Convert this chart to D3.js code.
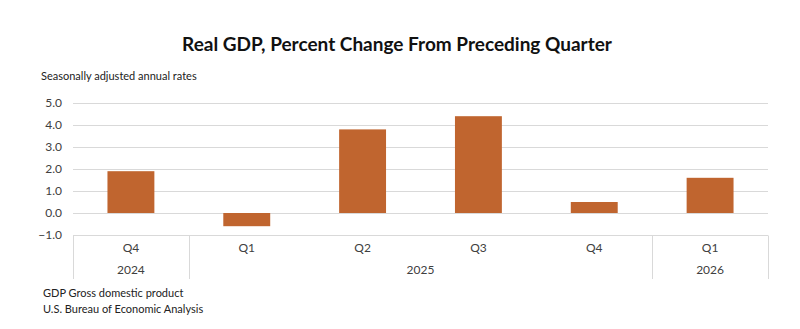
<!DOCTYPE html>
<html>
<head>
<meta charset="utf-8">
<style>
  body { margin: 0; background: #fff; }
  svg { display: block; font-family: Lato, "Open Sans", sans-serif; }
  .grid line { stroke: #d9d9d9; }
  .tick-label { font-size: 12px; fill: #404040; }
</style>
</head>
<body>
<svg width="800" height="329"></svg>
<script src="https://d3js.org/d3.v7.min.js"></script>
<script>

// quarters, the year each one belongs to, and the growth rate
var quarters = ["Q4", "Q1", "Q2", "Q3", "Q4", "Q1"];
var years = ["2024", "2025", "2025", "2025", "2025", "2026"];
var gdp = [1.9, -0.6, 3.8, 4.4, 0.5, 1.6];
var yTicks = [-1, 0, 1, 2, 3, 4, 5];

var svg = d3.select("svg");

var margin = {left: 73, right: 32, top: 103, bottom: 94};
var width = 800 - margin.left - margin.right,
    plotBottom = 329 - margin.bottom;

var ids = d3.range(gdp.length);

var x = d3.scaleBand()
    .domain(ids)
    .range([margin.left, margin.left + width])
    .paddingInner(0.595)
    .paddingOuter(0.2975);

var xOuter = d3.scaleBand()
    .domain(ids)
    .range([margin.left, margin.left + width]);

var y = d3.scaleLinear()
    .domain([-1, 5])
    .range([plotBottom, margin.top]);

// title and notes
svg.append("text")
    .attr("x", 397)
    .attr("y", 51)
    .attr("text-anchor", "middle")
    .style("font-size", "19px")
    .style("font-weight", "bold")
    .style("fill", "#111")
    .text("Real GDP, Percent Change From Preceding Quarter");

svg.append("text")
    .attr("x", 41)
    .attr("y", 80)
    .style("font-size", "11px")
    .style("fill", "#222")
    .text("Seasonally adjusted annual rates");

svg.append("text")
    .attr("x", 43)
    .attr("y", 297)
    .style("font-size", "11px")
    .style("fill", "#222")
    .text("GDP Gross domestic product");

svg.append("text")
    .attr("x", 43)
    .attr("y", 313)
    .style("font-size", "11px")
    .style("fill", "#222")
    .text("U.S. Bureau of Economic Analysis");

// gridlines
svg.append("g")
    .attr("class", "grid")
    .selectAll("line")
    .data(yTicks)
    .enter().append("line")
      .attr("x1", margin.left)
      .attr("x2", margin.left + width)
      .attr("y1", function(d) { return Math.round(y(d)) + 0.5; })
      .attr("y2", function(d) { return Math.round(y(d)) + 0.5; });

// y axis labels
svg.append("g")
    .selectAll("text")
    .data(yTicks)
    .enter().append("text")
      .attr("class", "tick-label")
      .attr("x", 62)
      .attr("y", function(d) { return y(d) + 4; })
      .attr("text-anchor", "end")
      .text(function(d) { return (d < 0 ? "\u22121.0" : d3.format(".1f")(d)); });

// bars
svg.append("g")
    .selectAll("rect")
    .data(ids)
    .enter().append("rect")
      .attr("x", function(i) { return x(i); })
      .attr("width", x.bandwidth())
      .attr("y", function(i) { return y(Math.max(0, gdp[i])); })
      .attr("height", function(i) { return Math.abs(y(gdp[i]) - y(0)); })
      .attr("fill", "#c0652f");

// category axis: quarter row, year row, and separators between years
var axisTop = Math.round(y(-1)) + 0.5,
    axisBottom = 279;

svg.append("g")
    .selectAll("text")
    .data(ids)
    .enter().append("text")
      .attr("class", "tick-label")
      .attr("x", function(i) { return xOuter(i) + xOuter.bandwidth() / 2; })
      .attr("y", 252)
      .attr("text-anchor", "middle")
      .text(function(i) { return quarters[i]; });

var groups = d3.groups(ids, function(i) { return years[i]; });

svg.append("g")
    .selectAll("text")
    .data(groups)
    .enter().append("text")
      .attr("class", "tick-label")
      .attr("x", function(g) {
        var a = xOuter(g[1][0]), b = xOuter(g[1][g[1].length - 1]) + xOuter.bandwidth();
        return (a + b) / 2;
      })
      .attr("y", 274)
      .attr("text-anchor", "middle")
      .text(function(g) { return g[0]; });

var edges = [xOuter(0)];
groups.forEach(function(g) {
  edges.push(xOuter(g[1][g[1].length - 1]) + xOuter.bandwidth());
});

svg.append("g")
    .selectAll("line")
    .data(edges)
    .enter().append("line")
      .attr("x1", function(d) { return Math.round(d) + 0.5; })
      .attr("x2", function(d) { return Math.round(d) + 0.5; })
      .attr("y1", axisTop)
      .attr("y2", axisBottom)
      .attr("stroke", "#d9d9d9");

</script>
</body>
</html>
